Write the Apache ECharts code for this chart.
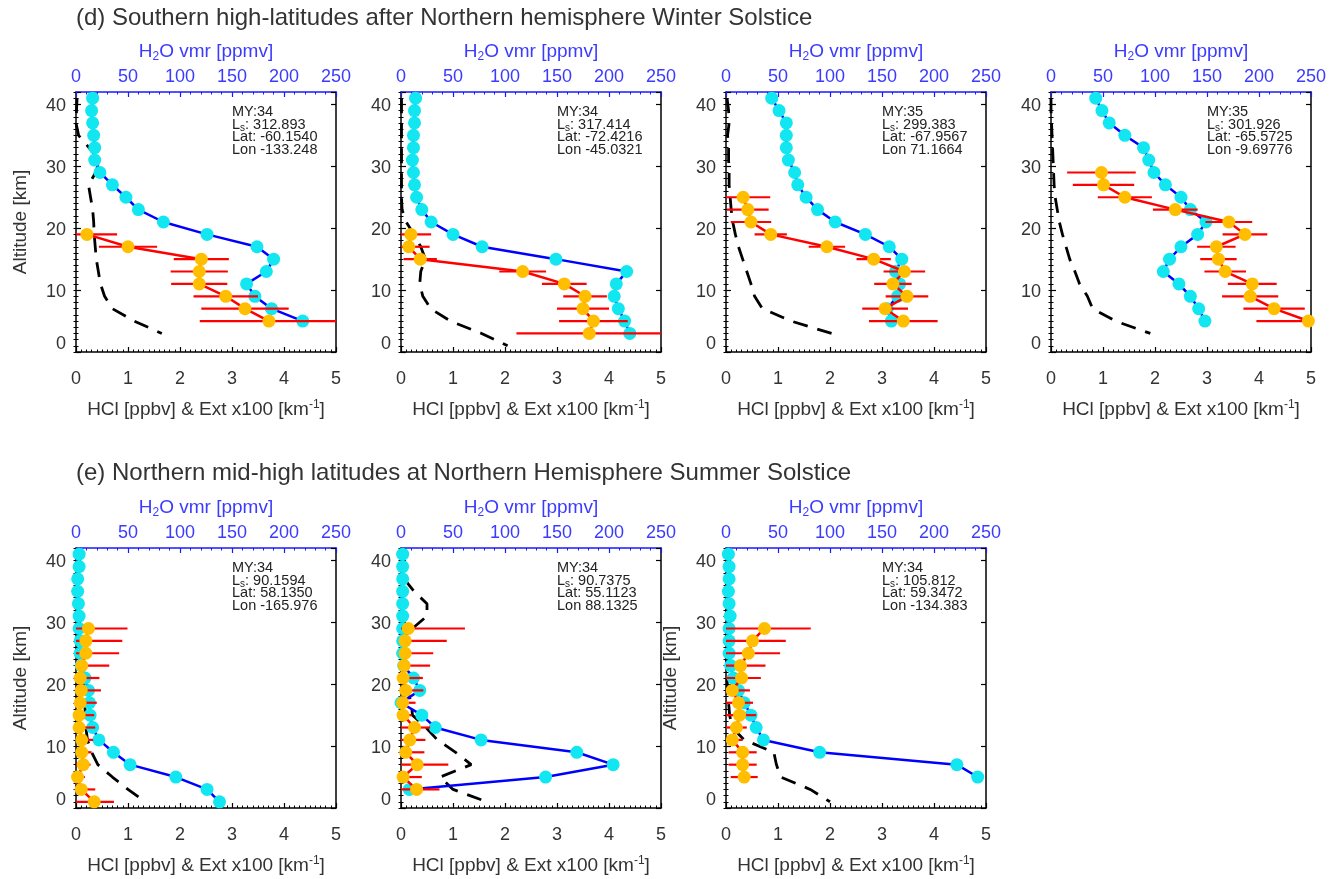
<!DOCTYPE html>
<html><head><meta charset="utf-8">
<script src="https://cdn.jsdelivr.net/npm/echarts@6/dist/echarts.min.js"></script>
<style>html,body{margin:0;padding:0;background:#fff}#c{width:1338px;height:879px}</style>
</head><body><div id="c"></div>
<script>
// ---------------- DATA ----------------
const ALT = [41,39,37,35,33,31,29,27,25,23,21,19,17,15,13,11,9,7,5,3,1];
const TITLES = ['(d) Southern high-latitudes after Northern hemisphere Winter Solstice',
                '(e) Northern mid-high latitudes at Northern Hemisphere Summer Solstice'];
const HCL_TICKS = [0,1,2,3,4,5];
const H2O_TICKS = [0,50,100,150,200,250];
const ALT_TICKS = [0,10,20,30,40];
const MY  = ['34','34','35','35','34','34','34'];
const LS  = ['312.893','317.414','299.383','301.926','90.1594','90.7375','105.812'];
const LAT = ['-60.1540','-72.4216','-67.9567','-65.5725','58.1350','55.1123','59.3472'];
const LON = ['-133.248','-45.0321','71.1664','-9.69776','-165.976','88.1325','-134.383'];

// H2O vmr [ppmv] (top axis), on ALT
const h2o_d1 = [16,15,16,17,18,18,23,35,48,60,84,126,174,190,183,164,172,188,218,null,null];
const h2o_d2 = [14,13,13,12,12,11,12,13,15,20,29,50,78,149,217,207,205,209,215,220,null];
const h2o_d3 = [44,51,58,58,58,60,66,69,77,88,105,134,157,169,163,167,165,155,159,null,null];
const h2o_d4 = [43,49,56,71,89,94,99,110,125,134,149,141,125,114,108,123,134,142,148,null,null];
const h2o_e1 = [3,3,1.6,1.6,2.3,3,3,4,4,5,8.7,12,13,13.5,16,22,36,52,96,126,138];
const h2o_e2 = [1.6,1.6,1.6,1.6,1.6,1.6,1.6,1.6,1.6,2.6,12,18,0,20,33,77,169,204,139,8,null];
const h2o_e3 = [2.3,3,3,2.3,3,4,3,3,3,4.5,7,12,17.5,24,29,36,90,222,242,null,null];

// HCl [ppbv] (bottom axis), on ALT
const hcl_d1 = [null,null,null,null,null,null,null,null,null,null,null,0.21,1.00,2.41,2.37,2.37,2.88,3.25,3.71,null,null];
const hcl_d2 = [null,null,null,null,null,null,null,null,null,null,null,0.19,0.15,0.37,2.34,3.14,3.54,3.50,3.70,3.62,null];
const hcl_d3 = [null,null,null,null,null,null,null,null,0.33,0.42,0.48,0.86,1.94,2.84,3.43,3.21,3.48,3.06,3.41,null,null];
const hcl_d4 = [null,null,null,null,null,null,0.97,1.01,1.42,2.39,3.42,3.73,3.18,3.22,3.35,3.87,3.83,4.29,4.95,null,null];
const hcl_e1 = [null,null,null,null,null,null,0.24,0.19,0.19,0.11,0.08,0.10,0.08,0.06,0.06,0.11,0.11,0.14,0.03,0.10,0.35];
const hcl_e2 = [null,null,null,null,null,null,0.14,0.08,0.08,0.06,0.04,0.09,0.03,0.04,0.26,0.17,0.09,0.31,0.04,0.30,null];
const hcl_e3 = [null,null,null,null,null,null,0.74,0.51,0.43,0.28,0.30,0.12,0.24,0.26,0.20,0.12,0.32,0.32,0.35,null,null];

// HCl error (half width) [ppbv], on ALT
const hclErr_d1 = [null,null,null,null,null,null,null,null,null,null,null,0.58,0.56,0.53,0.55,0.54,0.62,0.84,1.33,null,null];
const hclErr_d2 = [null,null,null,null,null,null,null,null,null,null,null,0.39,0.40,0.32,0.45,0.43,0.42,0.50,0.66,1.40,null];
const hclErr_d3 = [null,null,null,null,null,null,null,null,0.52,0.40,0.39,0.31,0.35,0.33,0.40,0.36,0.41,0.44,0.66,null,null];
const hclErr_d4 = [null,null,null,null,null,null,0.66,0.59,0.52,0.43,0.45,0.43,0.37,0.35,0.40,0.47,0.54,0.59,1.00,null,null];
const hclErr_e1 = [null,null,null,null,null,null,0.75,0.70,0.64,0.53,0.37,0.38,0.32,0.29,0.31,0.22,0.19,0.14,0.14,0.27,0.38];
const hclErr_e2 = [null,null,null,null,null,null,1.09,0.80,0.54,0.50,0.38,0.34,0.25,0.16,0.30,0.30,0.36,0.60,0.36,0.44,null];
const hclErr_e3 = [null,null,null,null,null,null,0.89,0.64,0.61,0.48,0.37,0.34,0.28,0.32,0.20,0.20,0.27,0.27,0.26,null,null];

// Extinction x100 [km-1] (bottom axis, dashed), on ALT
const ext_d1 = [0.02,0.01,0.0,0.05,0.25,0.45,0.38,0.24,0.28,0.32,0.34,0.35,0.37,0.39,0.43,0.47,0.55,0.70,1.12,1.65,null];
const ext_d2 = [0.01,0.01,0.01,0.01,0.01,0.01,0.01,0.01,0.01,0.02,0.10,0.25,0.38,0.47,0.38,0.36,0.42,0.57,0.95,1.55,2.05];
const ext_d3 = [0.02,0.05,0.06,0.03,0.05,0.05,0.06,0.06,0.08,0.10,0.13,0.18,0.24,0.32,0.40,0.48,0.55,0.70,1.25,2.03,null];
const ext_d4 = [0.0,0.0,0.01,0.02,0.03,0.04,0.05,0.06,0.08,0.12,0.16,0.22,0.29,0.36,0.46,0.55,0.70,0.80,1.24,1.91,null];
const ext_e1 = [0.02,0.02,0.02,0.02,0.03,0.04,0.05,0.07,0.09,0.12,0.14,0.16,0.17,0.18,0.19,0.22,0.30,0.42,0.70,1.00,1.33];
const ext_e2 = [0.0,0.01,0.06,0.25,0.50,0.50,0.22,0.05,0.02,0.02,0.05,0.12,0.20,0.22,0.48,0.70,1.05,1.35,0.75,1.00,1.65];
const ext_e3 = [0.01,0.01,0.01,0.01,0.01,0.01,0.01,0.01,0.01,0.01,0.02,0.03,0.05,0.07,0.12,0.35,0.92,0.97,1.05,1.62,2.00];

// ---------------- CHART ----------------
const PANELS = [
  {h2o:h2o_d1, hcl:hcl_d1, err:hclErr_d1, ext:ext_d1},
  {h2o:h2o_d2, hcl:hcl_d2, err:hclErr_d2, ext:ext_d2},
  {h2o:h2o_d3, hcl:hcl_d3, err:hclErr_d3, ext:ext_d3},
  {h2o:h2o_d4, hcl:hcl_d4, err:hclErr_d4, ext:ext_d4},
  {h2o:h2o_e1, hcl:hcl_e1, err:hclErr_e1, ext:ext_e1},
  {h2o:h2o_e2, hcl:hcl_e2, err:hclErr_e2, ext:ext_e2},
  {h2o:h2o_e3, hcl:hcl_e3, err:hclErr_e3, ext:ext_e3}
];
const FONT = '"Liberation Sans", Arial, Helvetica, sans-serif';
const TXT = '#333';
const BLUE_TXT = '#3b3bff';
const LEFTS = [76,401,726,1051];
const TOPS = [92,548];
const W = 260, H = 260;
const YNAME = [true,false,false,false,true,false,true];

function pairs(vals){ const o=[]; vals.forEach((v,k)=>{ if(v!==null) o.push([v, ALT[k]]); }); return o; }
function triples(vals, errs){ const o=[]; vals.forEach((v,k)=>{ if(v!==null && errs[k]!==null) o.push([v, ALT[k], errs[k]]); }); return o; }

const grids=[], xAxes=[], yAxes=[], series=[], graphics=[];
PANELS.forEach((p,i)=>{
  const row = i<4?0:1, col = i<4?i:i-4;
  const left = LEFTS[col], top = TOPS[row];
  grids.push({left:left, top:top, width:W, height:H, containLabel:false});
  // bottom HCl axis
  xAxes.push({gridIndex:i, type:'value', position:'bottom', min:HCL_TICKS[0], max:HCL_TICKS[HCL_TICKS.length-1], interval:1,
    axisLine:{show:true, onZero:false, lineStyle:{color:'#000', width:1.5}},
    axisTick:{show:true, inside:true, length:5, lineStyle:{color:'#000', width:1.2}},
    minorTick:{show:true, splitNumber:10, length:2.5, lineStyle:{color:'#000', width:1}},
    splitLine:{show:false}, minorSplitLine:{show:false},
    axisLabel:{margin:18, fontSize:18, color:TXT, fontFamily:FONT},
    name:'{a|HCl [ppbv] & Ext x100 [km}{s|-1}{a|]}', nameLocation:'middle', nameGap:47,
    nameTextStyle:{rich:{a:{fontSize:19, color:TXT, fontFamily:FONT, lineHeight:22},
                          s:{fontSize:12, color:TXT, fontFamily:FONT, lineHeight:12, verticalAlign:'top'}}}
  });
  // top H2O axis
  xAxes.push({gridIndex:i, type:'value', position:'top', min:H2O_TICKS[0], max:H2O_TICKS[H2O_TICKS.length-1], interval:50,
    axisLine:{show:true, onZero:false, lineStyle:{color:'#1a1aff', width:1.5}},
    axisTick:{show:true, inside:true, length:5, lineStyle:{color:'#1a1aff', width:1.2}},
    minorTick:{show:true, splitNumber:5, length:2.5, lineStyle:{color:'#1a1aff', width:1}},
    splitLine:{show:false}, minorSplitLine:{show:false},
    axisLabel:{margin:6, fontSize:18, color:BLUE_TXT, fontFamily:FONT},
    name:'{a|H}{s|2}{a|O vmr [ppmv]}', nameLocation:'middle', nameGap:29,
    nameTextStyle:{rich:{a:{fontSize:19, color:BLUE_TXT, fontFamily:FONT, lineHeight:22},
                          s:{fontSize:12, color:BLUE_TXT, fontFamily:FONT, lineHeight:12, verticalAlign:'bottom'}}}
  });
  // left major
  yAxes.push({gridIndex:i, type:'value', position:'left', min:0, max:42, interval:10,
    axisLine:{show:true, onZero:false, lineStyle:{color:'#000', width:1.5}},
    axisTick:{show:true, inside:true, length:5, lineStyle:{color:'#000', width:1.2}},
    splitLine:{show:false},
    axisLabel:{margin:10, fontSize:18, color:TXT, fontFamily:FONT,
      formatter:v=> v===0 ? '{z|0}' : (ALT_TICKS.indexOf(v)>=0 ? '{n|'+v+'}' : ''),
      rich:{z:{fontSize:18, color:TXT, fontFamily:FONT, padding:[0,0,15,0]},
            n:{fontSize:18, color:TXT, fontFamily:FONT, padding:[4,0,0,0]}}},
    name: YNAME[i] ? 'Altitude [km]' : '', nameLocation:'middle', nameGap:46,
    nameTextStyle:{fontSize:19, color:TXT, fontFamily:FONT}
  });
  // left minor
  yAxes.push({gridIndex:i, type:'value', position:'left', min:0, max:42, interval:1,
    axisLine:{show:false}, axisLabel:{show:false}, splitLine:{show:false},
    axisTick:{show:true, inside:true, length:2.5, lineStyle:{color:'#000', width:1}}});
  // right major
  yAxes.push({gridIndex:i, type:'value', position:'right', min:0, max:42, interval:10,
    axisLine:{show:true, onZero:false, lineStyle:{color:'#000', width:1.5}},
    axisTick:{show:true, inside:true, length:5, lineStyle:{color:'#000', width:1.2}},
    axisLabel:{show:false}, splitLine:{show:false}});
  // right minor
  yAxes.push({gridIndex:i, type:'value', position:'right', min:0, max:42, interval:1,
    axisLine:{show:false}, axisLabel:{show:false}, splitLine:{show:false},
    axisTick:{show:true, inside:true, length:2.5, lineStyle:{color:'#000', width:1}}});

  const xb = 2*i, xt = 2*i+1, yl = 4*i;
  series.push({type:'line', xAxisIndex:xb, yAxisIndex:yl, data:pairs(p.ext), symbol:'none', z:2,
    lineStyle:{color:'#000', width:2.8, type:[15,10]}, silent:true});
  series.push({type:'line', xAxisIndex:xt, yAxisIndex:yl, data:pairs(p.h2o), symbol:'circle', symbolSize:13, showAllSymbol:true, z:3,
    itemStyle:{color:'#12e6f0'}, lineStyle:{color:'#0000ff', width:2.5}, silent:true});
  series.push({type:'custom', xAxisIndex:xb, yAxisIndex:yl, data:triples(p.hcl,p.err), z:4, silent:true,
    encode:{x:0, y:1},
    renderItem:(params, api)=>{
      const x=api.value(0), y=api.value(1), e=api.value(2);
      const lo=Math.max(0,x-e), hi=Math.min(5,x+e);
      const a=api.coord([lo,y]), b=api.coord([hi,y]);
      return {type:'line', shape:{x1:a[0],y1:a[1],x2:b[0],y2:b[1]}, style:{stroke:'#ff0000', lineWidth:2.2}};
    }});
  series.push({type:'line', xAxisIndex:xb, yAxisIndex:yl, data:pairs(p.hcl), symbol:'circle', symbolSize:13, showAllSymbol:true, z:5,
    itemStyle:{color:'#ffbf00'}, lineStyle:{color:'#ff0000', width:2.5}, silent:true});

  // annotation text
  const ax = left + 156, ay = top + 20;
  const base = {fontSize:14.5, fontFamily:FONT, fill:'#222', align:'left', verticalAlign:'middle'};
  graphics.push({type:'text', x:ax, y:ay, style:Object.assign({text:'MY:'+MY[i]}, base), z:100});
  graphics.push({type:'text', x:ax, y:ay+12.7, z:100, style:Object.assign({}, base, {
    text:'{l|L}{s|s}{l|: '+LS[i]+'}',
    rich:{l:{fontSize:14.5, fontFamily:FONT, fill:'#222', lineHeight:18},
          s:{fontSize:10, fontFamily:FONT, fill:'#222', lineHeight:10, verticalAlign:'bottom'}}})});
  graphics.push({type:'text', x:ax, y:ay+25.4, style:Object.assign({text:'Lat: '+LAT[i]}, base), z:100});
  graphics.push({type:'text', x:ax, y:ay+37.8, style:Object.assign({text:'Lon '+LON[i]}, base), z:100});
});

const titles = TITLES.map((t,k)=>({text:t, left:76, top:k===0?6:461, padding:0,
  textStyle:{fontSize:24, fontWeight:'normal', color:TXT, fontFamily:FONT}}));

const chart = echarts.init(document.getElementById('c'), null, {renderer:'canvas'});
chart.setOption({
  animation:false, backgroundColor:'#fff',
  title:titles, grid:grids, xAxis:xAxes, yAxis:yAxes, series:series, graphic:graphics
});
</script></body></html>
